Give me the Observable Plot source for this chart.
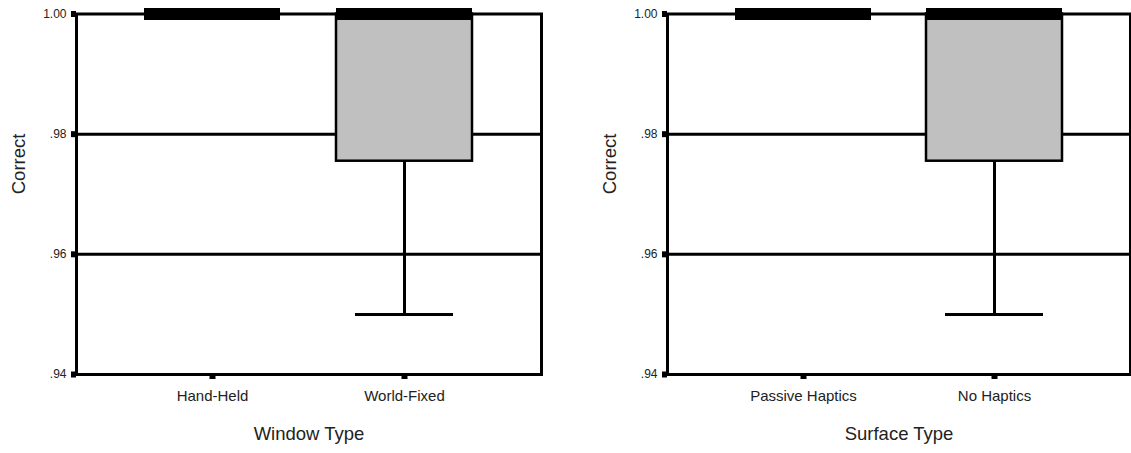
<!DOCTYPE html>
<html>
<head>
<meta charset="utf-8">
<script src="https://cdn.jsdelivr.net/npm/d3@7"></script>
<script src="https://cdn.jsdelivr.net/npm/@observablehq/plot@0.6"></script>
<style>
  html, body { margin: 0; padding: 0; background: #fff; }
  #wrap { position: relative; width: 1131px; height: 453px; overflow: hidden; }
  #left { position: absolute; left: 0; top: 0; }
  #right { position: absolute; left: 566px; top: 0; }
</style>
</head>
<body>
<div id="wrap"><div id="left"></div><div id="right"></div></div>
<script>
// Proportion correct, summarised as box plots (min, Q1, median, Q3, max)
const windowTypes = ["Hand-Held", "World-Fixed"];
const windowMin    = [1.00, 0.950];
const windowQ1     = [1.00, 0.9755];
const windowMedian = [1.00, 1.00];
const windowQ3     = [1.00, 1.00];
const windowMax    = [1.00, 1.00];

const surfaceTypes = ["Passive Haptics", "No Haptics"];
const surfaceMin    = [1.00, 0.950];
const surfaceQ1     = [1.00, 0.9755];
const surfaceMedian = [1.00, 1.00];
const surfaceQ3     = [1.00, 1.00];
const surfaceMax    = [1.00, 1.00];

const yTicks = [0.94, 0.96, 0.98, 1.00];
const gridLines = [0.96, 0.98];
const yTitle = "Correct";

const fmt = d => d3.format(".2f")(d).replace(/^0/, "");

function boxPanel({categories, mins, q1s, medians, q3s, maxs, xTitle, width, marginLeft, marginRight}) {
  const rows = categories.map((cat, i) => ({
    cat, min: mins[i], q1: q1s[i], median: medians[i], q3: q3s[i], max: maxs[i]
  }));
  return Plot.plot({
    width,
    height: 453,
    marginTop: 13.5,
    marginBottom: 79,
    marginLeft,
    marginRight,
    style: {fontFamily: "'Liberation Sans', Arial, sans-serif", color: "#000", background: "#fff", overflow: "visible"},
    x: {type: "band", domain: categories, paddingInner: 0.29, paddingOuter: 0.355},
    y: {domain: [0.94, 1.00]},
    marks: [
      Plot.ruleY(gridLines, {stroke: "#000", strokeWidth: 3}),
      // lower whisker and its cap
      Plot.ruleX(rows, {x: "cat", y1: "min", y2: "q1", strokeWidth: 3, filter: d => d.min < d.q1}),
      Plot.tickY(rows, {x: "cat", y: "min", strokeWidth: 3, insetLeft: 19, insetRight: 19, filter: d => d.min < d.q1}),
      // upper whisker and its cap
      Plot.ruleX(rows, {x: "cat", y1: "q3", y2: "max", strokeWidth: 3, filter: d => d.max > d.q3}),
      Plot.tickY(rows, {x: "cat", y: "max", strokeWidth: 3, insetLeft: 19, insetRight: 19, filter: d => d.max > d.q3}),
      // interquartile box
      Plot.barY(rows, {x: "cat", y1: "q1", y2: "q3", fill: "#c0c0c0", stroke: "#000", strokeWidth: 2.5}),
      // median
      Plot.tickY(rows, {x: "cat", y: "median", stroke: "#000", strokeWidth: 12}),
      Plot.frame({stroke: "#000", strokeWidth: 3}),
      Plot.axisY(yTicks, {tickSize: 5, strokeWidth: 6, tickPadding: 5, fontSize: 12, tickFormat: fmt, label: null, fill: "#222"}),
      Plot.axisX({tickSize: 5, strokeWidth: 6, tickPadding: 11, fontSize: 15, label: null, fill: "#222"}),
      Plot.text([xTitle], {frameAnchor: "bottom", dy: 65, fontSize: 18.5, fill: "#222"}),
      Plot.text([yTitle], {frameAnchor: "left", dx: -57, rotate: -90, fontSize: 18.5, fill: "#222"})
    ]
  });
}

document.getElementById("left").append(boxPanel({
  categories: windowTypes, mins: windowMin, q1s: windowQ1, medians: windowMedian, q3s: windowQ3, maxs: windowMax,
  xTitle: "Window Type", width: 566, marginLeft: 76, marginRight: 25
}));
document.getElementById("right").append(boxPanel({
  categories: surfaceTypes, mins: surfaceMin, q1s: surfaceQ1, medians: surfaceMedian, q3s: surfaceQ3, maxs: surfaceMax,
  xTitle: "Surface Type", width: 565, marginLeft: 101, marginRight: 1
}));
</script>
</body>
</html>
